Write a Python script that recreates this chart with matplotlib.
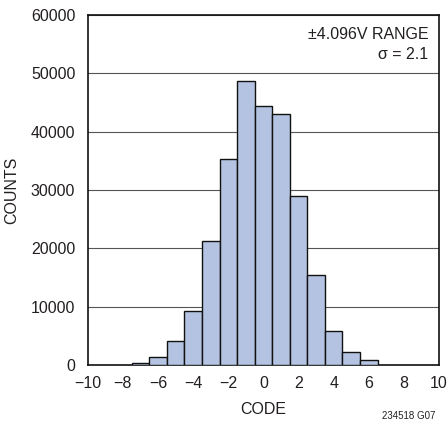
import numpy as np
import matplotlib
matplotlib.use('Agg')
import matplotlib.pyplot as plt

plt.rcParams['font.family'] = ['Liberation Sans Narrow', 'Liberation Sans', 'DejaVu Sans']
plt.rcParams['axes.unicode_minus'] = True

# 数据
codes = [-7, -6, -5, -4, -3, -2, -1, 0, 1, 2, 3, 4, 5, 6]
counts = [400, 1400, 4100, 9200, 21300, 35400, 48700, 44500, 43100, 29000, 15500, 5900, 2300, 900]
xticks = [-10, -8, -6, -4, -2, 0, 2, 4, 6, 8, 10]
yticks = [0, 10000, 20000, 30000, 40000, 50000, 60000]

txt = '#231f20'

fig = plt.figure(figsize=(4.48, 4.34), dpi=100)
ax = fig.add_axes([0.196, 0.159, 0.784, 0.806])

ax.bar(codes, counts, width=1.0, color='#b4c3e1', edgecolor='#111111', linewidth=1.0, zorder=3)

ax.set_xlim(-10, 10)
ax.set_ylim(0, 60000)
ax.set_xticks(xticks)
ax.set_yticks(yticks)
ax.set_xticklabels([str(t).replace('-', '\u2212') for t in xticks])
ax.tick_params(length=0, labelsize=11.5, colors=txt)
ax.tick_params(axis='x', pad=8)
ax.tick_params(axis='y', pad=9)
ax.yaxis.grid(True, color='#555555', linewidth=0.8, zorder=0)
for s in ax.spines.values():
    s.set_linewidth(1.2)
    s.set_color('#111111')

ax.set_xlabel('CODE', fontsize=11.5, color=txt, labelpad=8)
ax.set_ylabel('COUNTS', fontsize=11.5, color=txt, labelpad=8)

ax.text(0.97, 0.965, '\u00b14.096V RANGE\n\u03c3 = 2.1', transform=ax.transAxes,
        ha='right', va='top', fontsize=11.5, color=txt, linespacing=1.35, zorder=5)

fig.text(0.972, 0.03, '234518 G07', ha='right', va='bottom', fontsize=7, color=txt)

fig.savefig('out.png', dpi=100)
